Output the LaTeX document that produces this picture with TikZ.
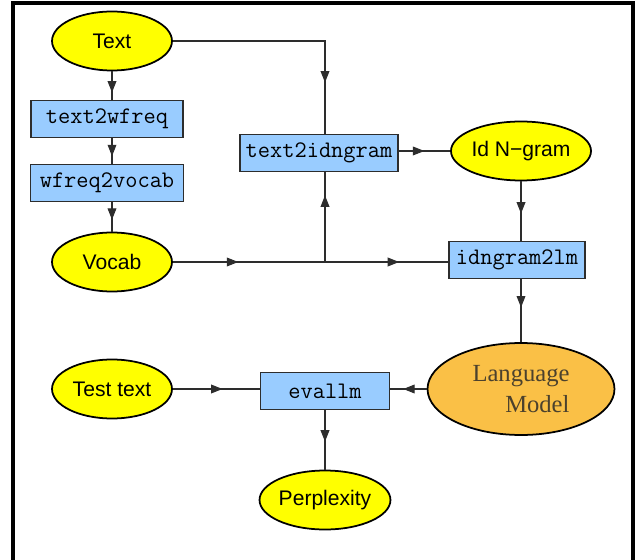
\documentclass[tikz,border=0pt]{standalone}
\usepackage{fontspec}
\setmainfont{Liberation Serif}
\setsansfont{Liberation Sans}
\definecolor{datayellow}{RGB}{255,255,0}
\definecolor{toolblue}{RGB}{153,204,255}
\definecolor{lmorange}{RGB}{250,192,70}
\definecolor{lmtext}{RGB}{75,65,45}
\definecolor{edgegray}{RGB}{45,45,45}
\usetikzlibrary{arrows.meta,shapes.geometric,decorations.markings}

\begin{document}
\begin{tikzpicture}[x=0.02cm, y=-0.02cm,
    datanode/.style={ellipse, draw=black, line width=1pt, fill=datayellow,
      minimum width=2.4cm, minimum height=1.18cm, inner sep=0pt,
      font=\sffamily\fontsize{12}{14}\selectfont},
    toolbox/.style={rectangle, draw=edgegray, line width=0.6pt, fill=toolblue,
      minimum height=0.74cm, inner sep=0pt, font=\ttfamily\fontsize{13.5}{16}\selectfont},
    flow/.style={draw=edgegray, line width=0.6pt},
    midarrow/.style={flow, postaction={decorate}, decoration={markings,
      mark=at position #1 with {\arrow{Triangle[length=6.5pt,width=5pt]}}}},
    midarrow/.default=0.6
  ]
    \useasboundingbox (0,0) rectangle (638,560);

    % Outer frame (open at the bottom)
    \draw[line width=2pt] (13,560) -- (13,3) -- (633,3) -- (633,560);

    % Data nodes
    \node[datanode] (txt)   at (112,41)  {Text};
    \node[datanode] (vocab) at (112,262) {Vocab};
    \node[datanode] (idng)  at (521,151) {Id N−gram};
    \node[datanode] (test)  at (112,389) {Test text};
    \node[datanode] (perp)  at (325,500) {Perplexity};
    \node[ellipse, draw=black, line width=1pt, fill=lmorange, minimum width=3.74cm,
      minimum height=1.84cm, inner sep=0pt, align=right, text=lmtext,
      font=\rmfamily\fontsize{14}{18}\selectfont] (lm) at (521,389) {Language\\Model};

    % Tool boxes
    \node[toolbox, minimum width=3.04cm] (t2wf)  at (107,119) {text2wfreq};
    \node[toolbox, minimum width=3.06cm] (wf2v)  at (107,183) {wfreq2vocab};
    \node[toolbox, minimum width=3.16cm] (t2id)  at (319,153) {text2idngram};
    \node[toolbox, minimum width=2.72cm] (id2lm) at (517,260) {idngram2lm};
    \node[toolbox, minimum width=2.58cm] (evlm)  at (325,391) {evallm};

    \coordinate (vj) at (325,262);

    % Vocabulary branch
    \draw[midarrow=0.74] (txt.south) -- (txt.south |- t2wf.north);
    \draw[midarrow=0.7]  (txt.south |- t2wf.south) -- (txt.south |- wf2v.north);
    \draw[midarrow=0.6]  (txt.south |- wf2v.south) -- (vocab.north);

    % N-gram branch
    \draw[midarrow=0.79] (txt.east) -| (vj |- t2id.north);
    \draw[midarrow=0.43] (vocab.east) -- (vj);
    \draw[midarrow=0.6]  (vj) -- (vj -| id2lm.west);
    \draw[midarrow=0.74] (vj) -- (vj |- t2id.south);
    \draw[midarrow=0.5]  (idng.west -| t2id.east) -- (idng.west);
    \draw[midarrow=0.54] (idng.south) -- (idng.south |- id2lm.north);
    \draw[midarrow=0.45] (idng.south |- id2lm.south) -- (lm.north);

    % Evaluation
    \draw[midarrow=0.64] (lm.west) -- (lm.west -| evlm.east);
    \draw[midarrow=0.57] (test.east) -- (test.east -| evlm.west);
    \draw[midarrow=0.53] (evlm.south) -- (perp.north);
  \end{tikzpicture}
\end{document}
